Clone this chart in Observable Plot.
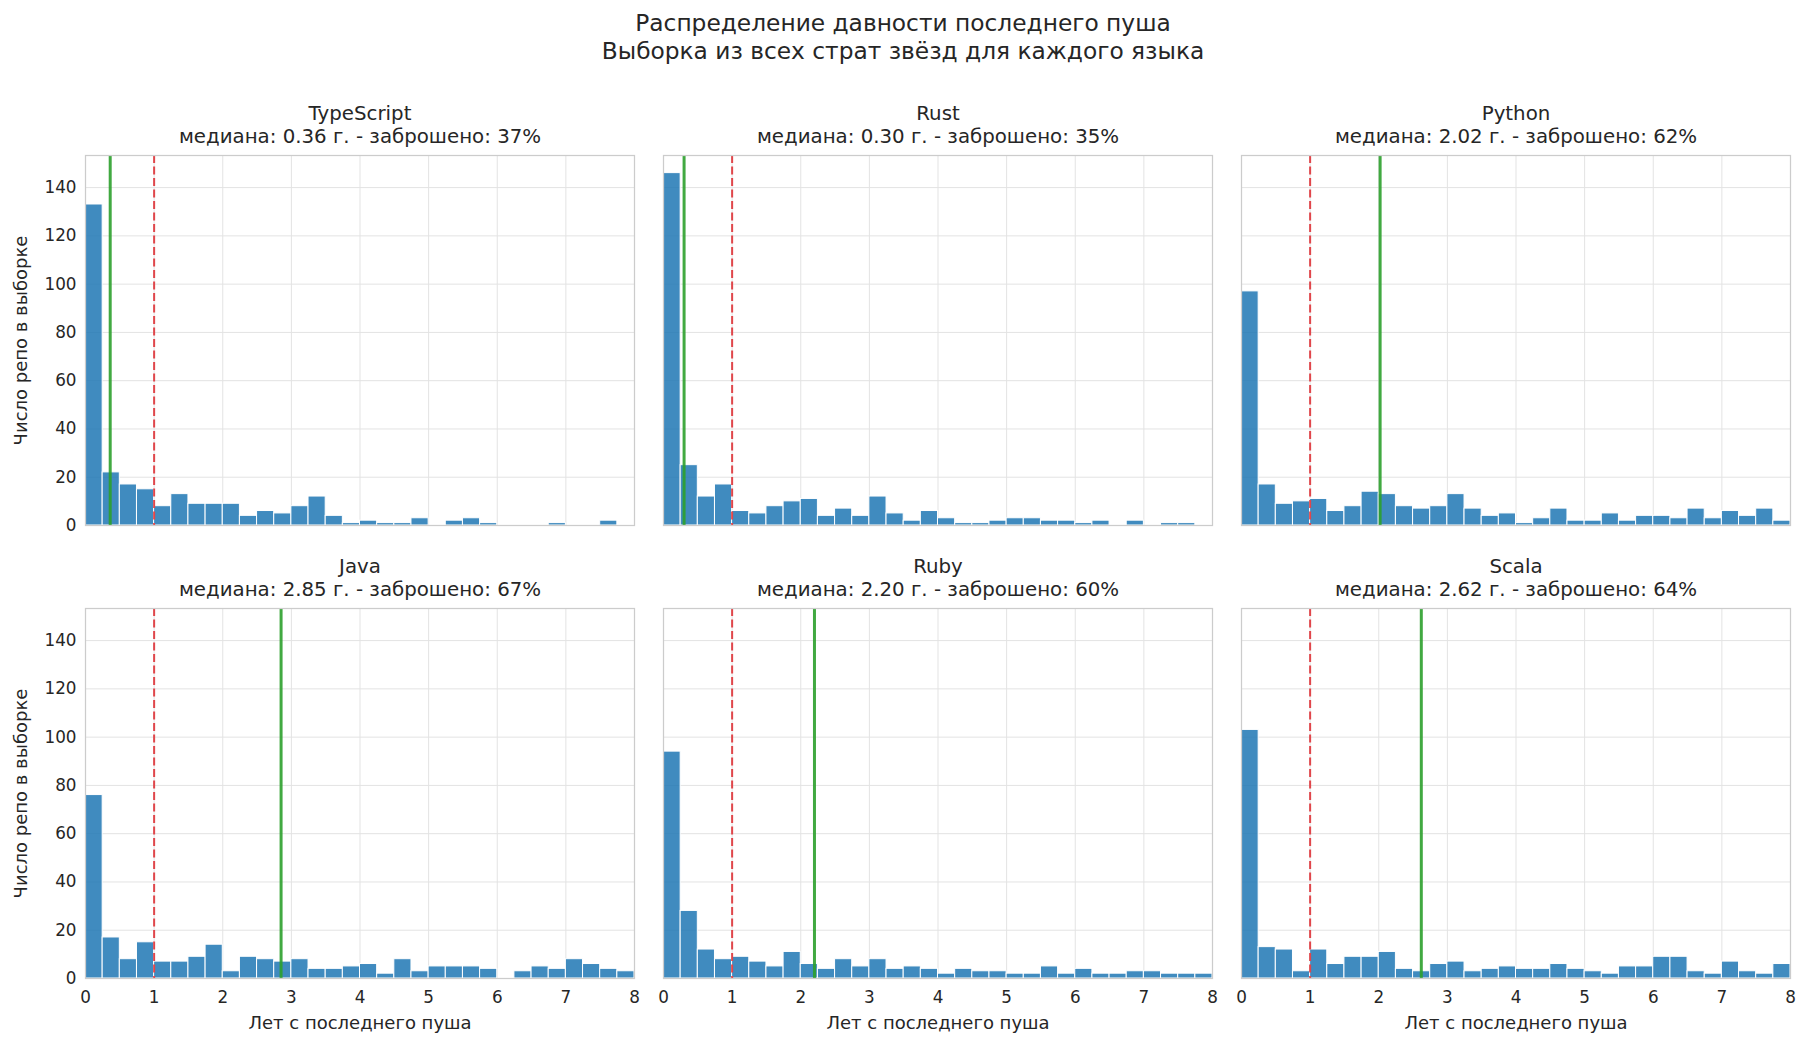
<!DOCTYPE html>
<html>
<head>
<meta charset="utf-8">
<script src="https://cdn.jsdelivr.net/npm/d3@7"></script>
<script src="https://cdn.jsdelivr.net/npm/@observablehq/plot@0.6"></script>
<style>
  html, body { margin: 0; padding: 0; background: #ffffff; }
  #fig { position: relative; width: 1806px; height: 1047px; background: #ffffff; font-family: "DejaVu Sans", sans-serif; color: #262626; overflow: hidden; }
  .suptitle { position: absolute; left: 0; width: 1806px; text-align: center; font-size: 23.3px; line-height: 28px; color: #262626; }
  .panel { position: absolute; }
  .panel svg { overflow: visible; }
</style>
</head>
<body>
<div id="fig">
  <div class="suptitle" style="top:9px;">Распределение давности последнего пуша<br>Выборка из всех страт звёзд для каждого языка</div>
</div>
<script>
// ---- Data ----
const languages = ["TypeScript", "Rust", "Python", "Java", "Ruby", "Scala"];
const medians = [0.36, 0.30, 2.02, 2.85, 2.20, 2.62];
const abandonedPct = [37, 35, 62, 67, 60, 64];
const abandonThreshold = [1];
const binEdges = [0, 0.25, 0.5, 0.75, 1, 1.25, 1.5, 1.75, 2, 2.25, 2.5, 2.75, 3, 3.25, 3.5, 3.75,
  4, 4.25, 4.5, 4.75, 5, 5.25, 5.5, 5.75, 6, 6.25, 6.5, 6.75, 7, 7.25, 7.5, 7.75, 8];
const countsTypeScript = [133, 22, 17, 15, 8, 13, 9, 9, 9, 4, 6, 5, 8, 12, 4, 1, 2, 1, 1, 3, 0, 2, 3, 1, 0, 0, 0, 1, 0, 0, 2, 0];
const countsRust       = [146, 25, 12, 17, 6, 5, 8, 10, 11, 4, 7, 4, 12, 5, 2, 6, 3, 1, 1, 2, 3, 3, 2, 2, 1, 2, 0, 2, 0, 1, 1, 0];
const countsPython     = [97, 17, 9, 10, 11, 6, 8, 14, 13, 8, 7, 8, 13, 7, 4, 5, 1, 3, 7, 2, 2, 5, 2, 4, 4, 3, 7, 3, 6, 4, 7, 2];
const countsJava       = [76, 17, 8, 15, 7, 7, 9, 14, 3, 9, 8, 7, 8, 4, 4, 5, 6, 2, 8, 3, 5, 5, 5, 4, 0, 3, 5, 4, 8, 6, 4, 3];
const countsRuby       = [94, 28, 12, 8, 9, 7, 5, 11, 6, 4, 8, 5, 8, 4, 5, 4, 2, 4, 3, 3, 2, 2, 5, 2, 4, 2, 2, 3, 3, 2, 2, 2];
const countsScala      = [103, 13, 12, 3, 12, 6, 9, 9, 11, 4, 3, 6, 7, 3, 4, 5, 4, 4, 6, 4, 3, 2, 5, 5, 9, 9, 3, 2, 7, 3, 2, 6];
const allCounts = [countsTypeScript, countsRust, countsPython, countsJava, countsRuby, countsScala];
const xTicks = [0, 1, 2, 3, 4, 5, 6, 7, 8];
const yTicks = [0, 20, 40, 60, 80, 100, 120, 140];
const xDomain = [0, 8];
const yDomain = [0, 153.3];
const xLabel = "Лет с последнего пуша";
const yLabel = "Число репо в выборке";

// ---- Layout ----
const frameLefts = [85, 663, 1241];
const frameTops = [155, 608];
const frameW = 549, frameH = 370;
const fig = document.getElementById("fig");
const textColor = "#262626";

languages.forEach((lang, k) => {
  const r = Math.floor(k / 3), c = k % 3;
  const ml = c === 0 ? 85 : 14, mr = 14, mt = 60, mb = r === 1 ? 69 : 8;
  const counts = allCounts[k];
  const rows = counts.map((v, i) => ({x1: binEdges[i], x2: binEdges[i + 1], count: v})).filter(d => d.count > 0);
  const marks = [
    Plot.gridX(xTicks, {stroke: "#e3e3e3", strokeOpacity: 1, strokeWidth: 1}),
    Plot.gridY(yTicks, {stroke: "#e3e3e3", strokeOpacity: 1, strokeWidth: 1}),
    Plot.rectY(rows, {x1: "x1", x2: "x2", y: "count", fill: "#1f77b4", fillOpacity: 0.85, stroke: "#ffffff", strokeWidth: 1}),
    Plot.ruleX(abandonThreshold, {stroke: "#e0464b", strokeOpacity: 1, strokeWidth: 2, strokeDasharray: "8,3.5"}),
    Plot.ruleX([medians[k]], {stroke: "#2ca02c", strokeOpacity: 0.9, strokeWidth: 3}),
    Plot.frame({stroke: "#cccccc", strokeWidth: 1.25}),
    Plot.text([lang], {text: d => d, frameAnchor: "top", textAnchor: "middle", lineAnchor: "middle", dy: -42, fontSize: 19.8, fill: textColor}),
    Plot.text([`медиана: ${medians[k].toFixed(2)} г. - заброшено: ${abandonedPct[k]}%`], {text: d => d, frameAnchor: "top", textAnchor: "middle", lineAnchor: "middle", dy: -19, fontSize: 19.8, fill: textColor})
  ];
  if (c === 0) {
    marks.push(Plot.axisY(yTicks, {tickSize: 0, tickPadding: 9, fontSize: 16.8, label: null, fill: textColor}));
    marks.push(Plot.text([yLabel], {text: d => d, frameAnchor: "left", rotate: -90, textAnchor: "middle", lineAnchor: "middle", dx: -64, fontSize: 18, fill: textColor}));
  }
  if (r === 1) {
    marks.push(Plot.axisX(xTicks, {tickSize: 0, tickPadding: 13, fontSize: 16.8, label: null, fill: textColor, tickFormat: d => String(d)}));
    marks.push(Plot.text([xLabel], {text: d => d, frameAnchor: "bottom", textAnchor: "middle", lineAnchor: "middle", dy: 45, fontSize: 18, fill: textColor}));
  }
  const chart = Plot.plot({
    width: frameW + ml + mr,
    height: frameH + mt + mb,
    marginLeft: ml, marginRight: mr, marginTop: mt, marginBottom: mb,
    style: {fontFamily: "DejaVu Sans, sans-serif", background: "transparent", color: textColor, overflow: "visible"},
    x: {domain: xDomain, axis: null},
    y: {domain: yDomain, axis: null},
    marks
  });
  const holder = document.createElement("div");
  holder.className = "panel";
  holder.style.left = (frameLefts[c] - ml) + "px";
  holder.style.top = (frameTops[r] - mt) + "px";
  holder.appendChild(chart);
  fig.appendChild(holder);
});
</script>
</body>
</html>
